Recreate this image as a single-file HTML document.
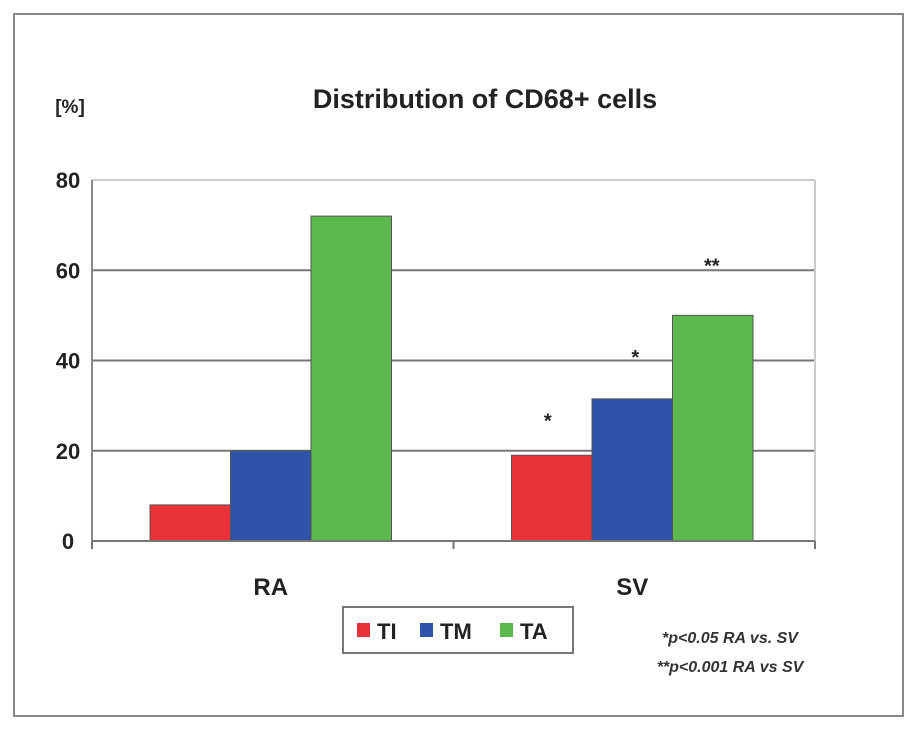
<!DOCTYPE html>
<html><head><meta charset="utf-8"><style>
body{margin:0;background:#fff;width:915px;height:730px;overflow:hidden;font-family:"Liberation Sans",Arial,sans-serif}
</style></head><body>
<svg id="chart" width="915" height="730" style="font-family:'Liberation Sans',Arial,sans-serif">
<rect x="14" y="14" width="889" height="702" fill="#fff" stroke="#888" stroke-width="2"/>
<text x="485" y="108" text-anchor="middle" font-size="27" font-weight="bold" fill="#222">Distribution of CD68+ cells</text>
<text x="70" y="113" text-anchor="middle" font-size="19" font-weight="bold" fill="#222">[%]</text>
<g id="grid"></g><g id="bars"></g><g id="axes"></g>
<rect x="343" y="607" width="230" height="46" fill="#fff" stroke="#777" stroke-width="2"/>
<g><rect x="357" y="623" width="13" height="14" fill="#e8323a"/><text x="377" y="639" font-size="22" font-weight="bold" fill="#222">TI</text></g>
<g><rect x="420" y="623" width="13" height="14" fill="#2f53a8"/><text x="440" y="639" font-size="22" font-weight="bold" fill="#222">TM</text></g>
<g><rect x="500" y="623" width="13" height="14" fill="#5cb94e"/><text x="520" y="639" font-size="22" font-weight="bold" fill="#222">TA</text></g>
<text x="730" y="643" text-anchor="middle" font-size="16" font-style="italic" font-weight="bold" fill="#333">*p&lt;0.05 RA vs. SV</text>
<text x="730" y="672" text-anchor="middle" font-size="16" font-style="italic" font-weight="bold" fill="#333">**p&lt;0.001 RA vs SV</text>
</svg>
<script>
const categories=["RA","SV"];
const seriesNames=["TI","TM","TA"];
const tiValues=[8,19];
const tmValues=[20,31.5];
const taValues=[72,50];
const sigMarks=[["","",""],["*","*","**"]];
const yTicks=[0,20,40,60,80];
const colors=["#e8323a","#2f53a8","#5cb94e"];
const NS="http://www.w3.org/2000/svg";
const x0=92,x1=815,y0=541,y80=180;
function y(v){return y0-(v/80)*(y0-y80);}
const catW=(x1-x0)/categories.length;
function catX(i){return x0+catW*i;}
const barW=80.5, groupOff=58;
const starDx=[-4,3,-1], starDy=[28,35,43];
function mk(tag,attrs,parent){const e=document.createElementNS(NS,tag);for(const k in attrs)e.setAttribute(k,attrs[k]);parent.appendChild(e);return e;}
const grid=document.getElementById('grid'),bars=document.getElementById('bars'),axes=document.getElementById('axes');
yTicks.forEach(t=>{
  if(t>0){const l=mk('line',{x1:x0,x2:x1,y1:y(t),y2:y(t),stroke:t==80?'#ccc':'#777','stroke-width':2},grid);
  
  }
  const tx=mk('text',{x:68,y:y(t)+8,'text-anchor':'middle','font-size':22,'font-weight':'bold',fill:'#222'},axes);
  tx.textContent=t;
  
  
});
const rl=mk('line',{x1:x1,x2:x1,y1:y80,y2:y0,stroke:'#ccc','stroke-width':2},grid);


const series=[tiValues,tmValues,taValues];
categories.forEach((c,i)=>{
  series.forEach((vals,s)=>{
    const bx=catX(i)+groupOff+s*barW;
    const r=mk('rect',{x:bx,y:y(vals[i]),width:barW,height:y0-y(vals[i]),fill:colors[s],stroke:'#555','stroke-width':1},bars);
    
    
    if(sigMarks[i][s]){
      const st=mk('text',{x:bx+barW/2+starDx[s],y:y(vals[i])-starDy[s],'text-anchor':'middle','font-size':20,'font-weight':'bold',fill:'#222'},bars);
      st.textContent=sigMarks[i][s];
      
      
    }
  });
  const lb=mk('text',{x:catX(i)+catW/2-2,y:595,'text-anchor':'middle','font-size':24,'font-weight':'bold',fill:'#222'},axes);
  lb.textContent=c;
  
  
});
const ya=mk('line',{x1:x0,x2:x0,y1:y80,y2:y0+8,stroke:'#888','stroke-width':2},axes);


const xa=mk('line',{x1:x0,x2:x1,y1:y0,y2:y0,stroke:'#777','stroke-width':2},axes);


for(let i=0;i<=categories.length;i++){
  const tk=mk('line',{x1:catX(i),x2:catX(i),y1:y0,y2:y0+8,stroke:'#777','stroke-width':2},axes);
  
  
}
</script>
</body></html>
